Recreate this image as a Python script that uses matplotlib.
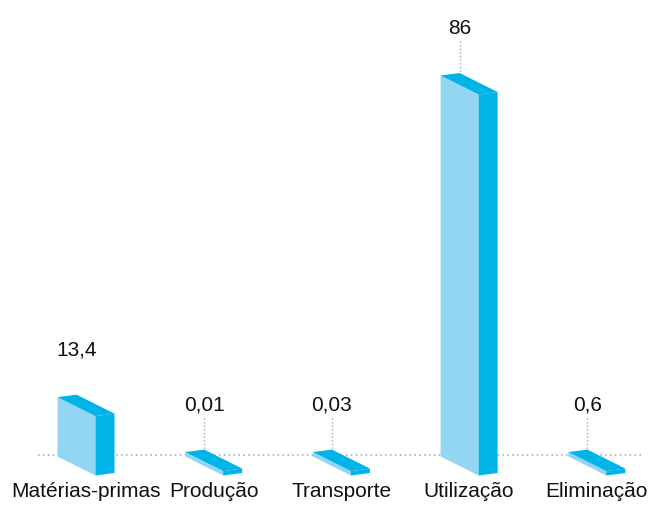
import matplotlib.pyplot as plt
from matplotlib.patches import Polygon

# Data
categories = ["Matérias-primas", "Produção", "Transporte", "Utilização", "Eliminação"]
values = [13.4, 0.01, 0.03, 86, 0.6]
value_labels = ["13,4", "0,01", "0,03", "86", "0,6"]
show_leader = [False, True, True, True, True]

# Colours
front_color = "#93D6F3"
side_color = "#00B4E8"
dot_color = "#8FAABB"

# Oblique projection: pixel sizes converted to data units
px_per_unit = 4.43      # vertical pixels per value unit
px_per_cat = 127.7      # horizontal pixels per category
base_px = 456.5         # pixel row of value 0
first_px = 57.5         # pixel column of first bar

front_dx = 38 / px_per_cat
front_dy = 19 / px_per_unit
depth_dx = 19 / px_per_cat
depth_dy = 2.5 / px_per_unit
min_h = 1.0             # flat bars still get a visible slab

plt.rcParams['font.family'] = ['Liberation Sans', 'DejaVu Sans']

fig = plt.figure(figsize=(6.63, 5.07), dpi=100)
ax = fig.add_axes([0, 0, 1, 1])
ax.set_xlim(-first_px / px_per_cat, (663 - first_px) / px_per_cat)
ax.set_ylim(-(507 - base_px) / px_per_unit, base_px / px_per_unit)
ax.axis('off')

# dotted baseline
ax.plot([(38 - first_px) / px_per_cat, (643 - first_px) / px_per_cat], [0.34, 0.34],
        color=dot_color, lw=1.1, linestyle=(0, (1, 2.2)), zorder=1)

for i, (cat, val, lab) in enumerate(zip(categories, values, value_labels)):
    h = max(val, min_h)
    x0 = i
    # front face
    front = [(x0, h), (x0 + front_dx, h - front_dy),
             (x0 + front_dx, -front_dy), (x0, 0)]
    # side face
    side = [(x0 + front_dx, h - front_dy),
            (x0 + front_dx + depth_dx, h - front_dy + depth_dy),
            (x0 + front_dx + depth_dx, -front_dy + depth_dy),
            (x0 + front_dx, -front_dy)]
    # top face
    top = [(x0, h), (x0 + depth_dx, h + depth_dy),
           (x0 + front_dx + depth_dx, h - front_dy + depth_dy),
           (x0 + front_dx, h - front_dy)]
    for pts, c in ((front, front_color), (side, side_color), (top, side_color)):
        ax.add_patch(Polygon(pts, closed=True, facecolor=c, edgecolor='none', zorder=3))

    # value label and leader line
    lx = x0 + depth_dx
    ly = h + depth_dy + 10
    ax.text(lx, ly, lab, ha='center', va='center', fontsize=15, color='#111111')
    if show_leader[i]:
        ax.plot([lx, lx], [ly - 2.8, h + depth_dy], color=dot_color, lw=1.0,
                linestyle=(0, (1, 1.6)), zorder=2)

    # category label
    ax.text(x0 + (front_dx + depth_dx) / 2, -8.0, cat, ha='center', va='center',
            fontsize=15, color='#111111')

fig.savefig("out.png", dpi=100)
